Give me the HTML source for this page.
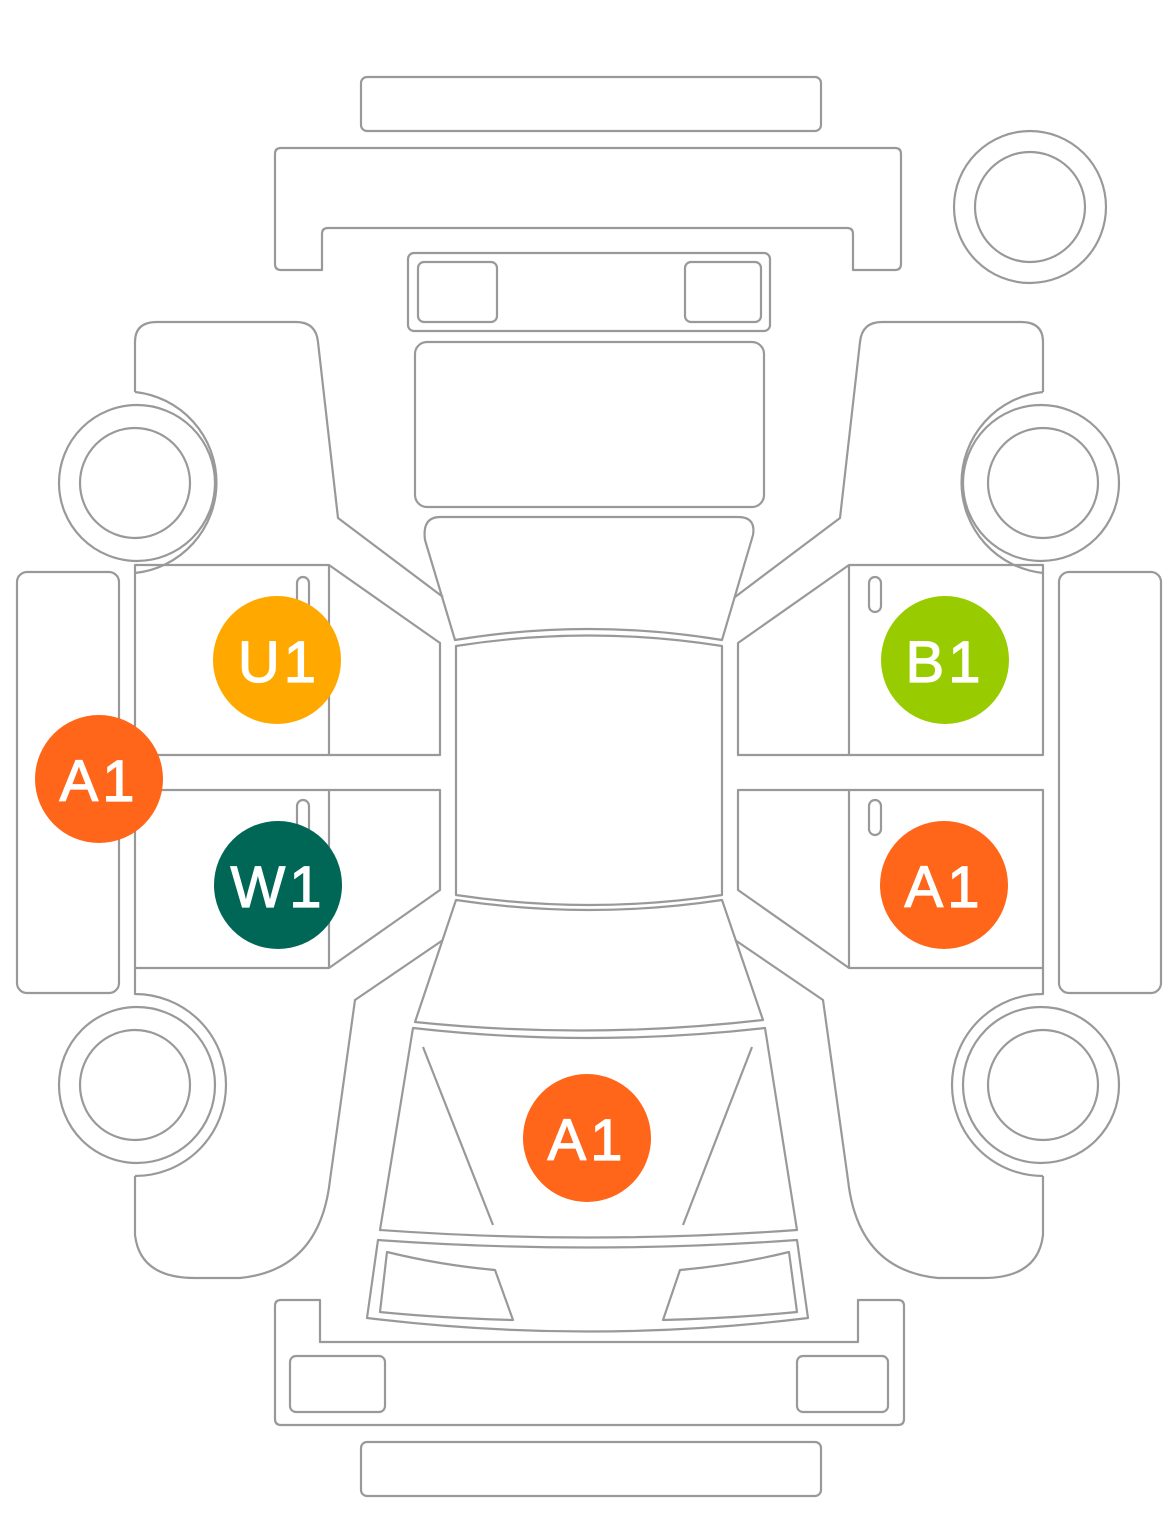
<!DOCTYPE html>
<html><head><meta charset="utf-8"><style>
html,body{margin:0;padding:0;background:#fff;}
svg{display:block;}
text{font-family:"Liberation Sans",sans-serif;font-size:58px;fill:#fff;stroke:#fff;stroke-width:1.2px;text-anchor:middle;letter-spacing:4px;}
</style></head><body>
<svg width="1176" height="1520" viewBox="0 0 1176 1520" xmlns="http://www.w3.org/2000/svg">
<g fill="none" stroke="#999" stroke-width="2.2" stroke-linejoin="round">
<rect x="361" y="77" width="460" height="54" rx="6"/>
<path d="M281,148 H895 Q901,148 901,154 V264 Q901,270 895,270 H853 V234 Q853,228 847,228 H328 Q322,228 322,234 V270 H281 Q275,270 275,264 V154 Q275,148 281,148 Z"/>
<circle cx="1030" cy="207" r="76"/><circle cx="1030" cy="207" r="55"/>
<rect x="408" y="253" width="362" height="78" rx="6"/>
<rect x="418" y="262" width="79" height="60" rx="6"/>
<rect x="685" y="262" width="76" height="60" rx="6"/>
<rect x="415" y="342" width="349" height="165" rx="12"/>
<path d="M440,517 H738 Q756,517 753,535 L722,640 Q589,618 455,640 L425,540 Q422,517 440,517 Z"/>
<path d="M456,646 Q589,625 722,646 V895 Q589,915 456,895 Z"/>
<path d="M456,900 Q589,920 722,900 L763,1020 Q589,1040 415,1022 Z"/>
<path d="M413,1028 Q589,1048 765,1028 L797,1230 Q589,1245 380,1230 Z"/>
<path d="M423,1047 L493,1225 M752,1047 L683,1225"/>
<path d="M378,1240 Q589,1255 797,1240 L808,1318 Q589,1345 367,1318 Z"/>
<path d="M387,1252 Q440,1265 495,1270 L513,1320 Q440,1318 380,1312 Z"/>
<path d="M789,1252 Q736,1265 680,1270 L663,1320 Q736,1318 797,1312 Z"/>
<path d="M281,1300 H320 V1342 H858 V1300 H898 Q904,1300 904,1306 V1419 Q904,1425 898,1425 H281 Q275,1425 275,1419 V1306 Q275,1300 281,1300 Z"/>
<rect x="290" y="1356" width="95" height="56" rx="6"/>
<rect x="797" y="1356" width="91" height="56" rx="6"/>
<rect x="361" y="1442" width="460" height="54" rx="6"/>
<g id="side">
<path d="M135,392 V342 Q135,322 157,322 H296 Q316,322 318,342 L338,518 L443,597"/>
<path d="M135,392 A91,91 0 0 1 135,573"/>
<circle cx="137" cy="483" r="78"/><circle cx="135" cy="483" r="55"/>
<rect x="17" y="572" width="102" height="421" rx="10"/>
<path d="M135,573 V565 H329 L440,643 V755 H135 Z M329,565 V755"/>
<path d="M135,790 H440 V890 L329,968 H135 Z M329,790 V968"/>
<rect x="297" y="577" width="12" height="35" rx="6"/>
<rect x="297" y="800" width="12" height="35" rx="6"/>
<path d="M135,968 V994 A91,91 0 0 1 135,1176"/>
<circle cx="137" cy="1085" r="78"/><circle cx="135" cy="1085" r="55"/>
<path d="M135,1176 V1235 Q140,1278 195,1278 H240 Q320,1270 330,1180 L355,1000 L443,940"/>
</g>
<use href="#side" transform="translate(1178,0) scale(-1,1)"/>
</g>
<circle cx="277" cy="660" r="64" fill="#FFA800"/><text x="279" y="682">U1</text>
<circle cx="99" cy="779" r="64" fill="#FF661A"/><text x="99" y="801">A1</text>
<circle cx="278" cy="885" r="64" fill="#006655"/><text x="278" y="907">W1</text>
<circle cx="945" cy="660" r="64" fill="#99CC00"/><text x="945" y="682">B1</text>
<circle cx="944" cy="885" r="64" fill="#FF661A"/><text x="944" y="907">A1</text>
<circle cx="587" cy="1138" r="64" fill="#FF661A"/><text x="587" y="1160">A1</text>
</svg>
</body></html>
